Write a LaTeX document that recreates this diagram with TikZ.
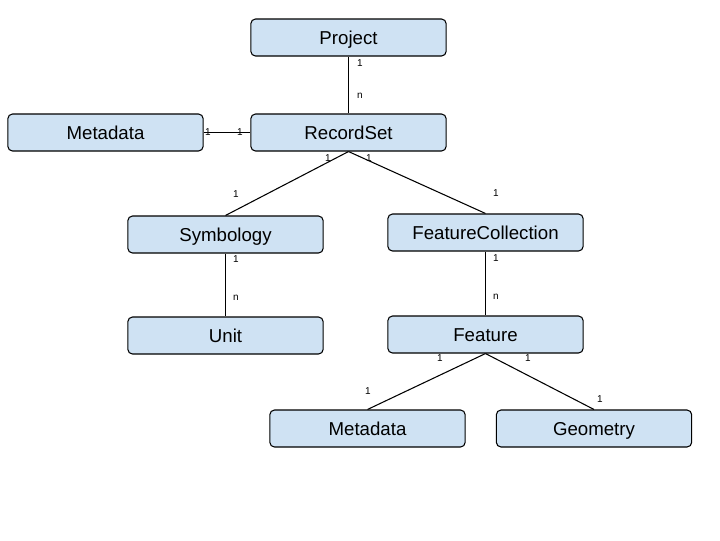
\documentclass[tikz,border=0pt]{standalone}
\usepackage{fontspec}
\setmainfont{Liberation Sans}
\usetikzlibrary{calc}
\usetikzlibrary{positioning}

\definecolor{boxblue}{HTML}{CFE2F3}

\tikzset{
  entity/.style={rectangle,rounded corners=3.5pt,minimum height=27.75pt,minimum width=146.5pt,text height=10.5pt,text depth=0.5pt,fill=boxblue,draw=black,line width=0.8pt,font=\fontsize{14}{16}\selectfont},
  card/.style={inner sep=0pt,font=\fontsize{7.5}{8}\selectfont},
  link/.style={line width=0.8pt}
}

\begin{document}
\begin{tikzpicture}[x=0.75pt,y=-0.75pt]

\useasboundingbox (0,0) rectangle (720,540);
\coordinate (LEFTCORNER) at (0,0);

%draw the boxes
\node[entity] at ($(LEFTCORNER)+(348.5,37.5)$) (project) {Project};
\node[entity] at ($(LEFTCORNER)+(105.5,132.5)$) (metadata) {Metadata};
\node[entity] at ($(LEFTCORNER)+(348.5,132.5)$) (recordset) {RecordSet};
\node[entity] at ($(LEFTCORNER)+(225.5,234.5)$) (symbology) {Symbology};
\node[entity] at ($(LEFTCORNER)+(485.5,232.5)$) (featcoll) {FeatureCollection};
\node[entity] at ($(LEFTCORNER)+(225.5,335.5)$) (unit) {Unit};
\node[entity] at ($(LEFTCORNER)+(485.5,334.5)$) (feature) {Feature};
\node[entity] at ($(LEFTCORNER)+(367.5,428.5)$) (featmeta) {Metadata};
\node[entity] at ($(LEFTCORNER)+(594,428.5)$) (geometry) {Geometry};

%%%%%%%

%connectors
\draw[link] (project.south) -- (recordset.north);
\draw[link] (metadata.east) -- (recordset.west);
\draw[link] (recordset.south) -- (symbology.north);
\draw[link] (recordset.south) -- (featcoll.north);
\draw[link] (symbology.south) -- (unit.north);
\draw[link] (featcoll.south) -- (feature.north);
\draw[link] (feature.south) -- (featmeta.north);
\draw[link] (feature.south) -- (geometry.north);

%cardinalities
\node[card] at ($(LEFTCORNER)+(360,63)$) (c1) {1};
\node[card] at ($(LEFTCORNER)+(360,96)$) (c2) {n};
\node[card] at ($(LEFTCORNER)+(208,132.5)$) (c3) {1};
\node[card] at ($(LEFTCORNER)+(240,132.5)$) (c4) {1};
\node[card] at ($(LEFTCORNER)+(328,158)$) (c5) {1};
\node[card] at ($(LEFTCORNER)+(369,158)$) (c6) {1};
\node[card] at ($(LEFTCORNER)+(236,194)$) (c7) {1};
\node[card] at ($(LEFTCORNER)+(496,193)$) (c8) {1};
\node[card] at ($(LEFTCORNER)+(236,259)$) (c9) {1};
\node[card] at ($(LEFTCORNER)+(236,298)$) (c10) {n};
\node[card] at ($(LEFTCORNER)+(496,258)$) (c11) {1};
\node[card] at ($(LEFTCORNER)+(496,297)$) (c12) {n};
\node[card] at ($(LEFTCORNER)+(440,358)$) (c13) {1};
\node[card] at ($(LEFTCORNER)+(528,358)$) (c14) {1};
\node[card] at ($(LEFTCORNER)+(368,391)$) (c15) {1};
\node[card] at ($(LEFTCORNER)+(600,399)$) (c16) {1};

\end{tikzpicture}
\end{document}
